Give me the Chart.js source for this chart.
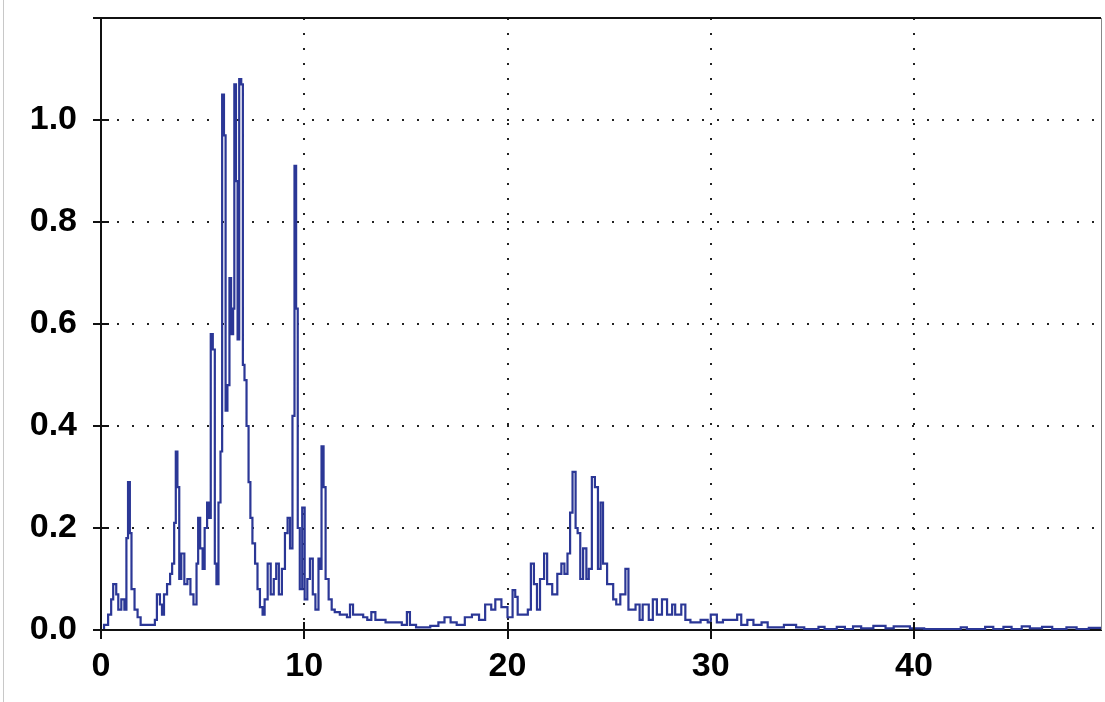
<!DOCTYPE html>
<html>
<head>
<meta charset="utf-8">
<script src="https://cdn.jsdelivr.net/npm/chart.js@4"></script>
<style>
  html, body { margin: 0; padding: 0; background: #fff; }
  #wrap { position: relative; width: 1105px; height: 702px; }
  #edge { position: absolute; left: 3px; top: 0; width: 1px; height: 702px; background: #c8c8c8; }
</style>
</head>
<body>
<div id="wrap">
  <canvas id="chart"></canvas>
  <div id="edge"></div>
</div>
<script>
// spectrum (x, amplitude)
const xValues = [
  0, 0.15, 0.35, 0.5, 0.6, 0.75, 0.85, 1.0, 1.15, 1.25, 1.33, 1.42, 1.5, 1.65, 1.8, 1.95, 2.3, 2.65, 2.75, 2.9,
  3.0, 3.1, 3.25, 3.4, 3.5, 3.6, 3.68, 3.76, 3.85, 3.95, 4.1, 4.25, 4.4, 4.55, 4.7, 4.78, 4.88, 5.0, 5.1, 5.22,
  5.32, 5.4, 5.5, 5.6, 5.68, 5.78, 5.88, 5.96, 6.05, 6.13, 6.22, 6.32, 6.4, 6.5, 6.56, 6.64, 6.72, 6.8, 6.9, 6.98,
  7.06, 7.16, 7.26, 7.35, 7.45, 7.58, 7.7, 7.82, 7.95, 8.05, 8.2, 8.35, 8.5, 8.62, 8.75, 8.9, 9.05, 9.18, 9.3, 9.42,
  9.52, 9.6, 9.68, 9.78, 9.9, 10.02, 10.15, 10.28, 10.42, 10.55, 10.7, 10.78, 10.85, 10.95, 11.05, 11.2, 11.35, 11.5, 11.75, 12.1,
  12.25, 12.4, 12.6, 12.9, 13.1, 13.3, 13.5, 13.75, 14.0, 14.4, 14.8, 15.05, 15.2, 15.5, 16.2, 16.6, 16.9, 17.2, 17.5, 17.9,
  18.25, 18.6, 18.9, 19.2, 19.4, 19.7, 20.0, 20.25, 20.38, 20.5, 21.0, 21.15, 21.3, 21.45, 21.6, 21.8, 21.95, 22.2, 22.45, 22.65,
  22.8, 22.95, 23.08, 23.2, 23.35, 23.45, 23.58, 23.72, 23.88, 24.0, 24.15, 24.3, 24.45, 24.58, 24.7, 24.9, 25.2, 25.35, 25.55, 25.8,
  25.95, 26.3, 26.5, 26.65, 26.95, 27.15, 27.35, 27.6, 27.85, 28.1, 28.25, 28.55, 28.75, 29.0, 29.5, 29.85, 30.0, 30.3, 30.6, 31.1,
  31.3, 31.5, 31.8, 32.1, 32.5, 32.8, 33.6, 34.2, 34.6, 35.3, 35.6, 36.2, 36.6, 37.0, 37.4, 38.0, 38.6, 39.0, 39.8, 40.5,
  41.5, 42.3, 42.6, 43.5, 43.9, 44.4, 44.8, 45.3, 45.7, 46.3, 46.8, 47.5, 48.0, 48.6, 49.2
];
const amplitude = [
  0, 0.01, 0.03, 0.06, 0.09, 0.07, 0.04, 0.06, 0.04, 0.18, 0.29, 0.19, 0.08, 0.04, 0.025, 0.01, 0.01, 0.02, 0.07, 0.05,
  0.03, 0.07, 0.09, 0.11, 0.13, 0.21, 0.35, 0.28, 0.10, 0.15, 0.09, 0.10, 0.07, 0.05, 0.13, 0.22, 0.16, 0.12, 0.20, 0.25,
  0.22, 0.58, 0.55, 0.13, 0.09, 0.25, 0.35, 1.05, 0.97, 0.43, 0.48, 0.69, 0.58, 0.63, 1.07, 0.88, 0.57, 1.08, 1.07, 0.52,
  0.49, 0.40, 0.29, 0.22, 0.17, 0.13, 0.08, 0.045, 0.03, 0.06, 0.13, 0.07, 0.10, 0.13, 0.07, 0.12, 0.19, 0.22, 0.16, 0.42,
  0.91, 0.63, 0.20, 0.08, 0.24, 0.06, 0.10, 0.14, 0.07, 0.04, 0.14, 0.12, 0.36, 0.28, 0.10, 0.06, 0.04, 0.035, 0.03, 0.025,
  0.05, 0.03, 0.03, 0.025, 0.02, 0.035, 0.02, 0.02, 0.015, 0.015, 0.01, 0.035, 0.01, 0.005, 0.008, 0.015, 0.025, 0.015, 0.01, 0.025,
  0.03, 0.02, 0.05, 0.04, 0.06, 0.045, 0.025, 0.078, 0.065, 0.03, 0.04, 0.13, 0.09, 0.04, 0.10, 0.15, 0.09, 0.07, 0.11, 0.13,
  0.11, 0.15, 0.23, 0.31, 0.20, 0.19, 0.10, 0.16, 0.10, 0.12, 0.30, 0.28, 0.12, 0.25, 0.13, 0.09, 0.06, 0.05, 0.07, 0.12,
  0.04, 0.05, 0.02, 0.05, 0.02, 0.06, 0.03, 0.06, 0.03, 0.05, 0.03, 0.05, 0.02, 0.015, 0.02, 0.015, 0.03, 0.015, 0.02, 0.02,
  0.03, 0.01, 0.02, 0.01, 0.015, 0.005, 0.01, 0.005, 0.002, 0.006, 0.002, 0.006, 0.002, 0.007, 0.003, 0.008, 0.003, 0.007, 0.003, 0.002,
  0.002, 0.005, 0.002, 0.006, 0.002, 0.006, 0.002, 0.007, 0.003, 0.006, 0.002, 0.005, 0.002, 0.004, 0.002
];
const xTicks = [0, 10, 20, 30, 40];
const yTicks = [0, 0.2, 0.4, 0.6, 0.8, 1.0];
const xMax = 49.2;
const yMax = 1.2;

const points = xValues.map((x, i) => ({ x: x, y: amplitude[i] }));
const labelFont = { family: '"Liberation Sans", Arial, sans-serif', size: 34, weight: 'bold' };

// ticks that cross the axes, plus top/right frame
const frame = {
  id: 'frame',
  afterDraw(chart) {
    const ctx = chart.ctx;
    const a = chart.chartArea;
    const xs = chart.scales.x, ys = chart.scales.y;
    ctx.save();
    ctx.strokeStyle = '#111';
    ctx.lineWidth = 2;
    ctx.beginPath();
    yTicks.forEach(v => {
      const py = Math.round(ys.getPixelForValue(v));
      ctx.moveTo(a.left - 8, py);
      ctx.lineTo(a.left + 8, py);
    });
    xTicks.forEach(v => {
      const px = Math.round(xs.getPixelForValue(v));
      ctx.moveTo(px, a.bottom - 8);
      ctx.lineTo(px, a.bottom + 9);
    });
    ctx.moveTo(a.left - 8, a.top);
    ctx.lineTo(a.right, a.top);
    ctx.stroke();
    ctx.strokeStyle = '#888';
    ctx.lineWidth = 1;
    ctx.beginPath();
    ctx.moveTo(a.right + 0.5, a.top);
    ctx.lineTo(a.right + 0.5, a.bottom);
    ctx.stroke();
    ctx.restore();
  }
};

new Chart(document.getElementById('chart'), {
  type: 'line',
  data: {
    datasets: [{
      data: points,
      borderColor: '#2b3796',
      borderWidth: 2.2,
      stepped: true,
      pointRadius: 0,
      fill: false
    }]
  },
  options: {
    responsive: true,
    maintainAspectRatio: false,
    animation: false,
    layout: { padding: { top: 18, right: 4, left: 0, bottom: 0 } },
    plugins: { legend: { display: false }, tooltip: { enabled: false } },
    scales: {
      x: {
        type: 'linear',
        min: 0,
        max: xMax,
        afterBuildTicks: s => { s.ticks = xTicks.map(v => ({ value: v })); },
        afterFit: s => { s.height = 72; s.paddingLeft = 0; s.paddingRight = 0; },
        ticks: { color: '#000', font: labelFont, padding: 16, maxRotation: 0 },
        grid: {
          drawTicks: false,
          color: ctx => ctx.tick && ctx.tick.value === 0 ? 'rgba(0,0,0,0)' : '#222',
          lineWidth: 2
        },
        border: { color: '#111', width: 2, dash: [2, 13] }
      },
      y: {
        min: 0,
        max: yMax,
        afterBuildTicks: s => { s.ticks = yTicks.map(v => ({ value: v })); },
        afterFit: s => { s.width = 101; s.paddingTop = 0; s.paddingBottom = 0; },
        ticks: {
          color: '#000',
          font: labelFont,
          padding: 24,
          callback: v => v.toFixed(1)
        },
        grid: {
          drawTicks: false,
          color: ctx => ctx.tick && ctx.tick.value === 0 ? 'rgba(0,0,0,0)' : '#222',
          lineWidth: 2
        },
        border: { color: '#111', width: 2, dash: [2, 13] }
      }
    }
  },
  plugins: [frame]
});
</script>
</body>
</html>
